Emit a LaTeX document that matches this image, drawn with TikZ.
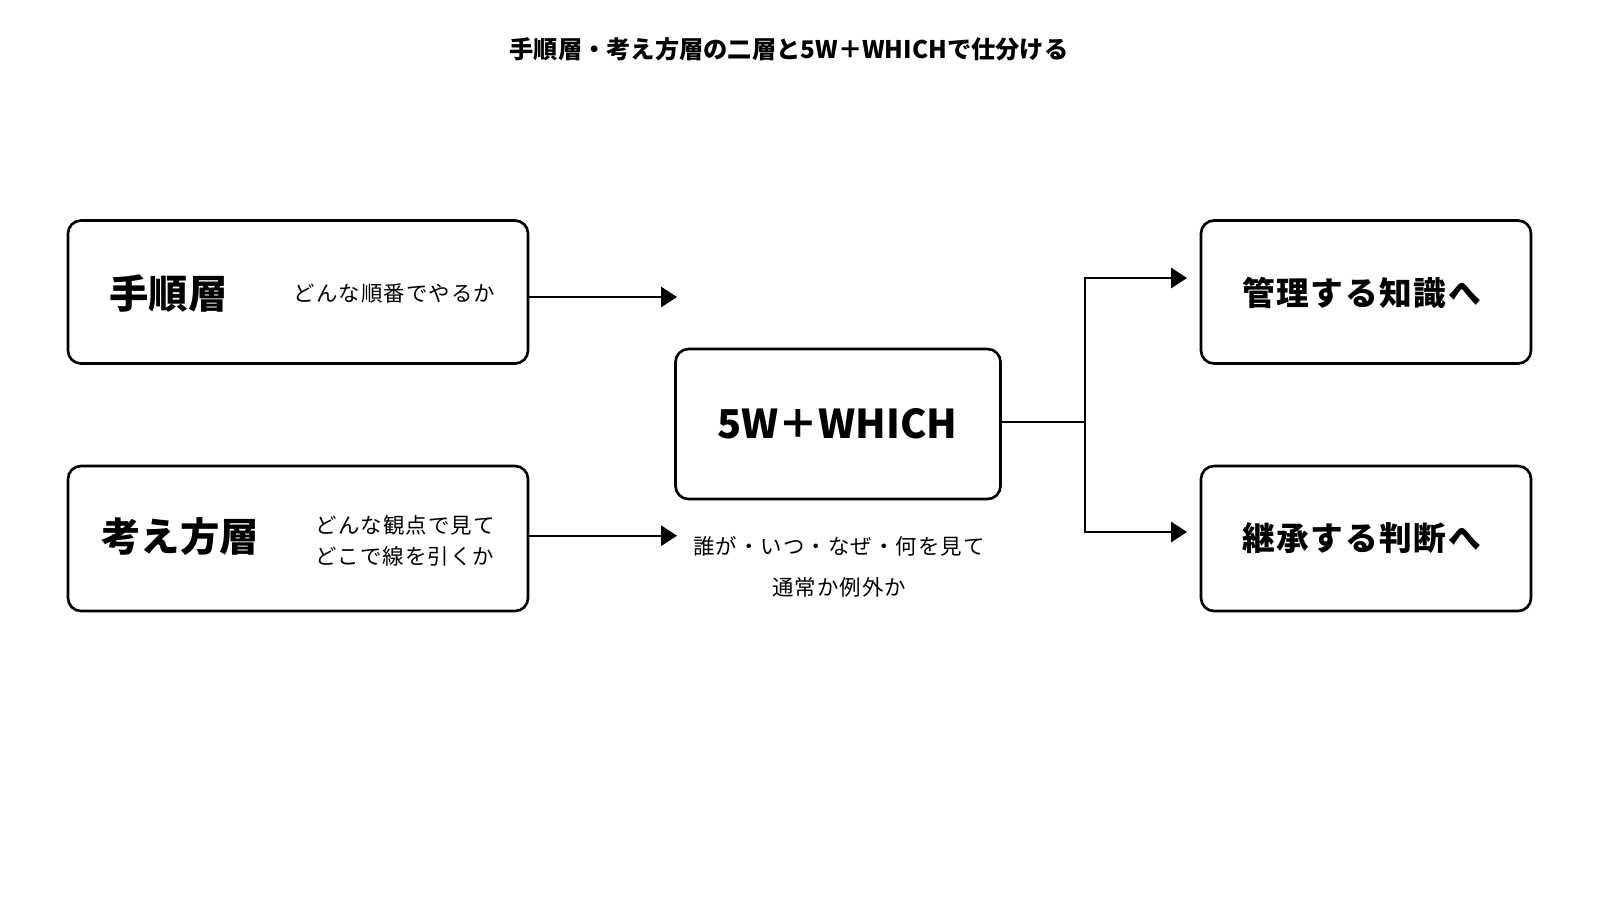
\documentclass[tikz,border=0pt]{standalone}
\usepackage{fontspec}
\setmainfont{Noto Sans CJK JP}
\newfontfamily\widejp[LetterSpace=5]{Noto Sans CJK JP}
\usetikzlibrary{arrows.meta, positioning, calc}

\tikzset{
    layerbox/.style={draw, line width=0.75pt, rounded corners=0.13cm, minimum width=4.6cm, minimum height=1.43cm, inner sep=0pt},
    headtext/.style={font=\fontsize{11.2}{13}\selectfont\bfseries, inner sep=0pt},
    notetext/.style={font=\fontsize{6.1}{9}\selectfont\widejp, inner sep=0pt},
    flow/.style={-{Triangle[length=4.5pt, width=5.7pt]}, line width=0.65pt},
}

\begin{document}
\begin{tikzpicture}
    \useasboundingbox (0, 0) rectangle (16, -9);

    \node[font=\fontsize{6.9}{8}\selectfont\bfseries] (title) at (7.89, -0.49) {手順層・考え方層の二層と5W＋WHICHで仕分ける};

    % left: the two layers
    \node[layerbox] (proc) at (2.98, -2.92) {};
    \node[headtext] (proctitle) at (1.685, -2.93) {手順層};
    \node[notetext, anchor=west] (procnote) at (2.93, -2.93) {どんな順番でやるか};

    \node[layerbox, minimum height=1.45cm] (mind) at (2.98, -5.385) {};
    \node[headtext] (mindtitle) at (1.8, -5.37) {考え方層};
    \node[notetext, anchor=west, align=left] (mindnote) at (3.15, -5.41) {どんな観点で見て\\どこで線を引くか};

    % middle
    \node[layerbox, minimum width=3.25cm, minimum height=1.5cm] (hub) at (8.38, -4.24) {};
    \node[font=\fontsize{11.3}{13}\selectfont\bfseries, inner sep=0pt] (hubtitle) at (8.375, -4.24) {5W＋WHICH};
    \node[notetext, align=center, font=\fontsize{6.1}{11.7}\selectfont\widejp] (hubnote) at (8.39, -5.665) {誰が・いつ・なぜ・何を見て\\通常か例外か};

    % right
    \node[layerbox, minimum width=3.3cm] (know) at (13.66, -2.92) {};
    \node[font=\fontsize{9.3}{11}\selectfont\bfseries\widejp, inner sep=0pt] (knowtext) at (13.615, -2.93) {管理する知識へ};
    \node[layerbox, minimum width=3.3cm, minimum height=1.45cm] (judge) at (13.66, -5.385) {};
    \node[font=\fontsize{9.3}{11}\selectfont\bfseries\widejp, inner sep=0pt] (judgetext) at (13.615, -5.38) {継承する判断へ};

    \coordinate (procend) at (6.77, -2.97);
    \coordinate (mindend) at (6.77, -5.357);
    \draw[flow] (proc.east |- procend) -- (procend);
    \draw[flow] (mind.east |- mindend) -- (mindend);

    \coordinate (split) at (10.85, -4.22);
    \coordinate (knowin) at (11.87, -2.78);
    \coordinate (judgein) at (11.87, -5.32);
    \draw[line width=0.65pt] (hub.east |- split) -- (split);
    \draw[flow] (split) |- (knowin);
    \draw[flow] (split) |- (judgein);
\end{tikzpicture}
\end{document}
